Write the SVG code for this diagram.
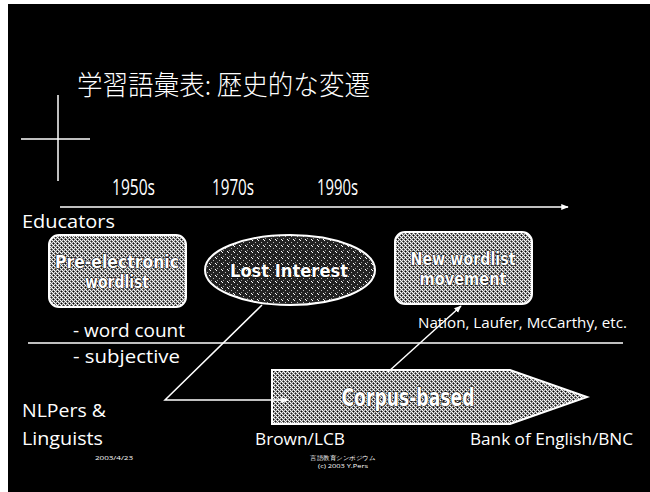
<svg xmlns="http://www.w3.org/2000/svg" width="650" height="492" viewBox="0 0 650 492">
<defs>
<pattern id="dither" width="4" height="4" patternUnits="userSpaceOnUse">
<rect width="4" height="4" fill="#777"/>
<rect x="0" y="0" width="1" height="1" fill="#fff"/>
<rect x="2" y="0" width="1" height="1" fill="#ddd"/>
<rect x="1" y="1" width="1" height="1" fill="#fff"/>
<rect x="3" y="1" width="1" height="1" fill="#222"/>
<rect x="0" y="2" width="1" height="1" fill="#ccc"/>
<rect x="2" y="2" width="1" height="1" fill="#fff"/>
<rect x="1" y="3" width="1" height="1" fill="#000"/>
<rect x="3" y="3" width="1" height="1" fill="#eee"/>
</pattern>
<pattern id="sparse" width="6" height="6" patternUnits="userSpaceOnUse">
<rect width="6" height="6" fill="#222"/>
<rect x="0" y="0" width="1" height="1" fill="#fff"/>
<rect x="3" y="2" width="1" height="1" fill="#bbb"/>
<rect x="1" y="4" width="1" height="1" fill="#999"/>
<rect x="5" y="5" width="1" height="1" fill="#fff"/>
</pattern>
<marker id="tip" viewBox="0 0 10 10" refX="9" refY="5" markerWidth="5" markerHeight="5" orient="auto">
<path d="M0,1 L10,5 L0,9 Z" fill="#fff"/>
</marker>
</defs>
<style>
.t{fill:#fff;font-family:"Open Sans","DejaVu Sans",sans-serif;}
.lbl{fill:#fff;stroke:#000;stroke-width:1.2;paint-order:stroke;font-family:"DejaVu Sans Condensed","DejaVu Sans",sans-serif;font-weight:bold;text-anchor:middle;}
.ln{stroke:#fff;stroke-width:1.5;fill:none;}
.shape{stroke:#fff;stroke-width:2;}
</style>
<rect x="0" y="0" width="650" height="492" fill="#fff"/>
<rect x="8" y="4" width="642" height="488" fill="#000"/>

<g id="title">
<text x="77" y="95" fill="#fff" font-size="27" font-family="'Noto Sans CJK JP',sans-serif" font-weight="300" textLength="293" lengthAdjust="spacingAndGlyphs">学習語彙表: 歴史的な変遷</text>
</g>
<g id="cross">
<line class="ln" x1="58" y1="95" x2="58" y2="181"/>
<line class="ln" x1="21" y1="139" x2="90" y2="139"/>
</g>

<g id="years">
<text class="t" x="112" y="195" font-size="21" textLength="43" lengthAdjust="spacingAndGlyphs">1950s</text>
<text class="t" x="212" y="195" font-size="21" textLength="42" lengthAdjust="spacingAndGlyphs">1970s</text>
<text class="t" x="317" y="195" font-size="21" textLength="41" lengthAdjust="spacingAndGlyphs">1990s</text>
</g>

<g id="labels">
<text class="t" x="22" y="228" font-size="18" textLength="93" lengthAdjust="spacingAndGlyphs">Educators</text>
<text class="t" x="73" y="337" font-size="18" textLength="112" lengthAdjust="spacingAndGlyphs">- word count</text>
<text class="t" x="73" y="363" font-size="18" textLength="107" lengthAdjust="spacingAndGlyphs">- subjective</text>
<text class="t" x="22" y="417" font-size="18" textLength="84" lengthAdjust="spacingAndGlyphs">NLPers &amp;</text>
<text class="t" x="22" y="445" font-size="18" textLength="81" lengthAdjust="spacingAndGlyphs">Linguists</text>
<text class="t" x="255" y="445" font-size="17" textLength="90" lengthAdjust="spacingAndGlyphs">Brown/LCB</text>
<text class="t" x="470" y="445" font-size="17" textLength="163" lengthAdjust="spacingAndGlyphs">Bank of English/BNC</text>
<text class="t" x="418" y="328" font-size="14" textLength="209" lengthAdjust="spacingAndGlyphs">Nation, Laufer, McCarthy, etc.</text>
<text class="t" x="95" y="460" font-size="6" textLength="38" lengthAdjust="spacingAndGlyphs">2003/4/23</text>
<text class="t" x="310" y="460" font-size="6" font-family="'Noto Sans CJK JP',sans-serif" textLength="65" lengthAdjust="spacingAndGlyphs">言語教育シンポジウム</text>
<text class="t" x="318" y="468" font-size="6" textLength="50" lengthAdjust="spacingAndGlyphs">(c) 2003 Y.Pers</text>
</g>

<g id="pre-electronic">
<rect class="shape" x="49" y="235" width="137" height="72" rx="10" fill="url(#dither)"/>
<text class="lbl" x="117" y="268" font-size="18" textLength="124" lengthAdjust="spacingAndGlyphs">Pre-electronic</text>
<text class="lbl" x="117" y="288" font-size="18" textLength="64" lengthAdjust="spacingAndGlyphs">wordlist</text>
</g>

<g id="lost-interest">
<ellipse class="shape" cx="290" cy="270" rx="85" ry="35" fill="url(#sparse)"/>
<text class="lbl" x="289" y="277" font-size="18" textLength="118" lengthAdjust="spacingAndGlyphs">Lost Interest</text>
</g>

<g id="new-wordlist">
<rect class="shape" x="395" y="232" width="137" height="72" rx="10" fill="url(#dither)"/>
<text class="lbl" x="463" y="265" font-size="18" textLength="105" lengthAdjust="spacingAndGlyphs">New wordlist</text>
<text class="lbl" x="463" y="285" font-size="18" textLength="87" lengthAdjust="spacingAndGlyphs">movement</text>
</g>

<g id="corpus-based">
<path class="shape" d="M272,370 L510,370 L587,397 L510,424 L272,424 Z" fill="url(#dither)"/>
<text class="lbl" x="408" y="406" font-size="24" textLength="133" lengthAdjust="spacingAndGlyphs">Corpus-based</text>
</g>

<g id="connectors">
<line class="ln" x1="60" y1="207" x2="568" y2="207" marker-end="url(#tip)"/>
<line class="ln" x1="28" y1="343" x2="623" y2="343"/>
<polyline class="ln" points="262,305 165,400 288,400" marker-end="url(#tip)"/>
<line class="ln" x1="388" y1="372" x2="461" y2="306" marker-end="url(#tip)"/>
</g>
</svg>
